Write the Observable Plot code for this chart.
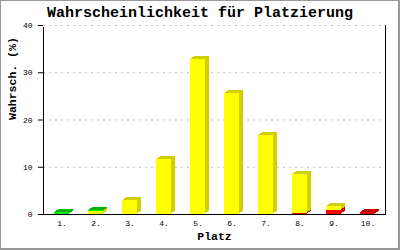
<!DOCTYPE html>
<html>
<head>
<meta charset="utf-8">
<script src="https://cdn.jsdelivr.net/npm/d3@7"></script>
<script src="https://cdn.jsdelivr.net/npm/@observablehq/plot@0.6"></script>
<style>
  body { margin: 0; background: white; }
  #wrap { position: relative; width: 400px; height: 250px; overflow: hidden; }
  #wrap svg { position: absolute; left: 0; top: 0; }
  #title { position: absolute; left: 0; top: 5px; width: 400px; text-align: center;
    font: bold 15px/17px "Liberation Mono", "DejaVu Sans Mono", monospace; color: #000; }
  #border { position: absolute; left: 0; top: 0; width: 400px; height: 250px; box-sizing: border-box;
    border-top: 1px solid #999; border-left: 1px solid #999; border-right: 2px solid #999; border-bottom: 2px solid #999;
    pointer-events: none; }
</style>
</head>
<body>
<div id="wrap">
  <div id="title">Wahrscheinlichkeit für Platzierung</div>
</div>
<script>
const title = "Wahrscheinlichkeit für Platzierung";
const xLabel = "Platz";
const yLabel = "Wahrsch. (%)";
const platz = ["1.", "2.", "3.", "4.", "5.", "6.", "7.", "8.", "9.", "10."];
const red    = [0,   0,   0,   0,    0,    0,    0,    0.2, 0.8, 0.4];
const yellow = [0,   0.55, 3.0, 11.7, 32.8, 25.7, 16.7, 8.2, 0.8, 0];
const green  = [0.4, 0.35, 0,   0,    0,    0,    0,    0,   0,   0];
const yTicks = [0, 10, 20, 30, 40];

const seriesDefs = [
  {name: "rot",  values: red,    front: "#ff0000", dark: "#c80000"},
  {name: "gelb", values: yellow, front: "#ffff00", dark: "#d0d000"},
  {name: "grün", values: green,  front: "#00ee00", dark: "#00b400"}
];

// build stacked table (bottom: red, then yellow, then green)
const base = platz.map(() => 0);
const tables = seriesDefs.map(s => {
  const rows = platz.map((p, i) => {
    const y1 = base[i], y2 = base[i] + s.values[i];
    base[i] = y2;
    return {platz: p, y1, y2, v: s.values[i]};
  }).filter(r => r.v > 0);
  return {...s, rows};
});

const marks = [
  Plot.ruleY(yTicks.filter(t => t > 0), {stroke: "#c0c0c0", strokeDasharray: "2,4"})
];
const depth = [[1, -1], [2, -2], [3, -2], [4, -3]];
for (const s of tables) {
  for (const [dx, dy] of depth) {
    marks.push(Plot.barY(s.rows, {x: "platz", y1: "y1", y2: "y2", fill: s.dark, dx, dy, shapeRendering: "crispEdges"}));
  }
  marks.push(Plot.barY(s.rows, {x: "platz", y1: "y1", y2: "y2", fill: s.front, shapeRendering: "crispEdges"}));
}
marks.push(
  Plot.frame({stroke: "black", shapeRendering: "crispEdges"}),
  Plot.ruleY([40], {stroke: "white", strokeWidth: 2, shapeRendering: "crispEdges"}),
  Plot.ruleY([40], {stroke: "#c0c0c0", strokeDasharray: "2,4"}),
  Plot.text([xLabel], {text: d => d, frameAnchor: "bottom", dy: 25, fontWeight: "bold", fontSize: 11.5}),
  Plot.text([yLabel], {text: d => d, frameAnchor: "left", rotate: -90, dx: -31, fontWeight: "bold", fontSize: 11.5})
);

const chart = Plot.plot({
  width: 400,
  height: 250,
  marginLeft: 43,
  marginRight: 15,
  marginTop: 25,
  marginBottom: 36,
  style: {fontFamily: "'Liberation Mono', 'DejaVu Sans Mono', monospace", fontSize: "8px", color: "black", background: "white", overflow: "visible"},
  x: {domain: platz, paddingInner: 0.56, paddingOuter: 0.28, label: null, tickSize: 0, tickPadding: 6},
  y: {domain: [0, 40], ticks: yTicks, tickSize: 5, tickPadding: 6, label: null, tickFormat: d => String(d)},
  marks
});
const wrap = document.getElementById("wrap");
wrap.insertBefore(chart, wrap.firstChild);
const border = document.createElement("div");
border.id = "border";
wrap.appendChild(border);
</script>
</body>
</html>
